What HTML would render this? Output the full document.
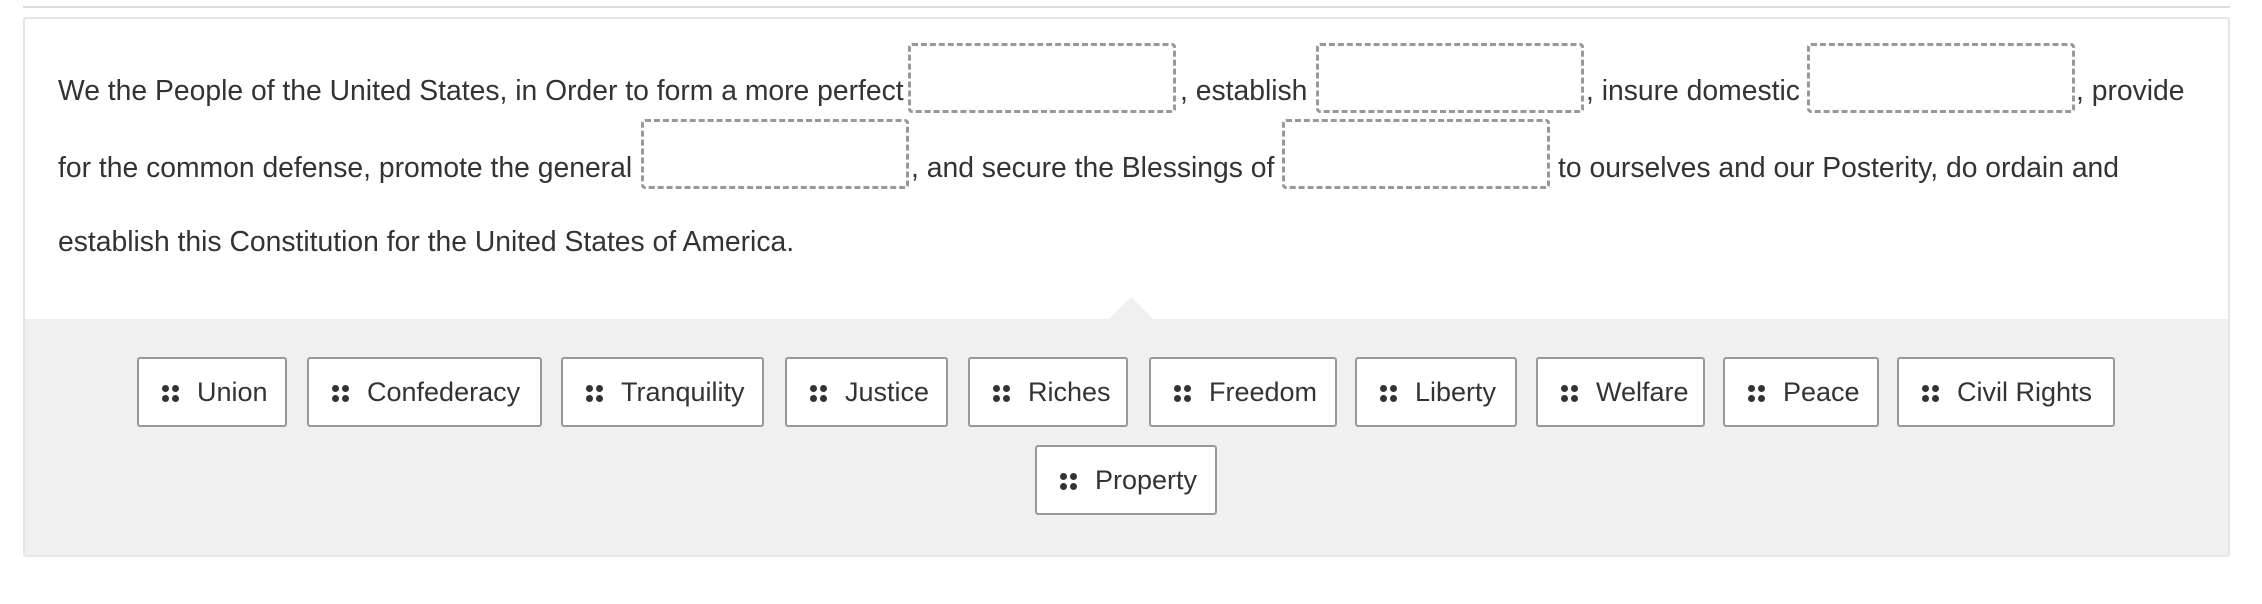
<!DOCTYPE html>
<html><head><meta charset="utf-8"><style>
html,body{margin:0;padding:0;background:#fff;width:2262px;height:604px;overflow:hidden;position:relative;font-family:"Liberation Sans",Arial,sans-serif;color:#333}
.abs{position:absolute}
.t{position:absolute;font-size:28.3px;line-height:30px;white-space:nowrap}
.blank{position:absolute;border:3px dashed #999;border-radius:4px;box-sizing:border-box;width:268px;height:70px}
.btn{position:absolute;top:357px;height:70px;box-sizing:border-box;border:2px solid #999;border-radius:3px;background:#fff;font-size:27px;line-height:66px;white-space:nowrap}
.btn span{position:absolute;left:58px;top:0}
.dots{position:absolute;left:23px;top:26px;width:18px;height:17px}
.dots i{position:absolute;width:7px;height:7px;border-radius:50%;background:#333}
</style></head><body>
<div class="abs" style="left:23px;top:6px;width:2207px;height:2px;background:#ddd"></div>
<div class="abs" style="left:23px;top:17px;width:2207px;height:540px;border:2px solid #e6e6e6;border-radius:3px;box-sizing:border-box;background:#fff"></div>
<div class="abs" style="left:25px;top:319px;width:2203px;height:236px;background:#f0f0f0"></div>
<div class="abs" style="left:1109px;top:297px;width:0;height:0;border-left:22px solid transparent;border-right:22px solid transparent;border-bottom:22px solid #f0f0f0"></div>

<div class="t" style="left:58px;top:75px">We the People of the United States, in Order to form a more perfect</div>
<div class="blank" style="left:908px;top:43px"></div>
<div class="t" style="left:1180px;top:75px">, establish</div>
<div class="blank" style="left:1316px;top:43px"></div>
<div class="t" style="left:1586px;top:75px">, insure domestic</div>
<div class="blank" style="left:1807px;top:43px"></div>
<div class="t" style="left:2076px;top:75px">, provide</div>

<div class="t" style="left:58px;top:152px">for the common defense, promote the general</div>
<div class="blank" style="left:641px;top:119px"></div>
<div class="t" style="left:911px;top:152px">, and secure the Blessings of</div>
<div class="blank" style="left:1282px;top:119px"></div>
<div class="t" style="left:1558px;top:152px">to ourselves and our Posterity, do ordain and</div>

<div class="t" style="left:58px;top:226px">establish this Constitution for the United States of America.</div>

<div class="btn" style="left:137px;width:150px"><div class="dots"><i style="left:0;top:0"></i><i style="left:10px;top:0"></i><i style="left:0;top:10px"></i><i style="left:10px;top:10px"></i></div><span>Union</span></div>
<div class="btn" style="left:307px;width:235px"><div class="dots"><i style="left:0;top:0"></i><i style="left:10px;top:0"></i><i style="left:0;top:10px"></i><i style="left:10px;top:10px"></i></div><span>Confederacy</span></div>
<div class="btn" style="left:561px;width:203px"><div class="dots"><i style="left:0;top:0"></i><i style="left:10px;top:0"></i><i style="left:0;top:10px"></i><i style="left:10px;top:10px"></i></div><span>Tranquility</span></div>
<div class="btn" style="left:785px;width:163px"><div class="dots"><i style="left:0;top:0"></i><i style="left:10px;top:0"></i><i style="left:0;top:10px"></i><i style="left:10px;top:10px"></i></div><span>Justice</span></div>
<div class="btn" style="left:968px;width:160px"><div class="dots"><i style="left:0;top:0"></i><i style="left:10px;top:0"></i><i style="left:0;top:10px"></i><i style="left:10px;top:10px"></i></div><span>Riches</span></div>
<div class="btn" style="left:1149px;width:188px"><div class="dots"><i style="left:0;top:0"></i><i style="left:10px;top:0"></i><i style="left:0;top:10px"></i><i style="left:10px;top:10px"></i></div><span>Freedom</span></div>
<div class="btn" style="left:1355px;width:162px"><div class="dots"><i style="left:0;top:0"></i><i style="left:10px;top:0"></i><i style="left:0;top:10px"></i><i style="left:10px;top:10px"></i></div><span>Liberty</span></div>
<div class="btn" style="left:1536px;width:169px"><div class="dots"><i style="left:0;top:0"></i><i style="left:10px;top:0"></i><i style="left:0;top:10px"></i><i style="left:10px;top:10px"></i></div><span>Welfare</span></div>
<div class="btn" style="left:1723px;width:156px"><div class="dots"><i style="left:0;top:0"></i><i style="left:10px;top:0"></i><i style="left:0;top:10px"></i><i style="left:10px;top:10px"></i></div><span>Peace</span></div>
<div class="btn" style="left:1897px;width:218px"><div class="dots"><i style="left:0;top:0"></i><i style="left:10px;top:0"></i><i style="left:0;top:10px"></i><i style="left:10px;top:10px"></i></div><span>Civil Rights</span></div>
<div class="btn" style="left:1035px;top:445px;width:182px"><div class="dots"><i style="left:0;top:0"></i><i style="left:10px;top:0"></i><i style="left:0;top:10px"></i><i style="left:10px;top:10px"></i></div><span>Property</span></div>
</body></html>
